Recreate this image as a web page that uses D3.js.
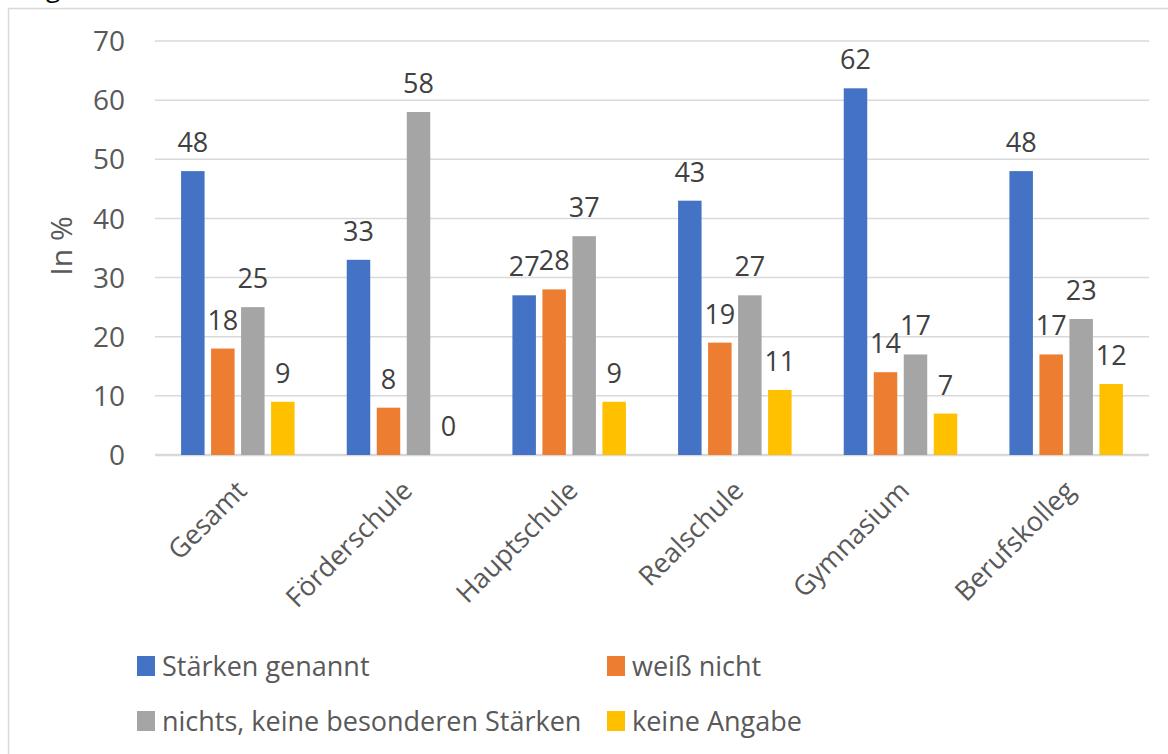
<!DOCTYPE html>
<html>
<head>
<meta charset="utf-8">
<script src="https://cdn.jsdelivr.net/npm/d3@7"></script>
<style>
  body { margin: 0; background: #fff; }
  text { font-family: "Open Sans", sans-serif; }
</style>
</head>
<body>
<script>
var width = 1168;
var height = 754;
var categories = ['Gesamt', 'Förderschule', 'Hauptschule', 'Realschule', 'Gymnasium', 'Berufskolleg'];
var seriesNames = ['Stärken genannt', 'weiß nicht', 'nichts, keine besonderen Stärken', 'keine Angabe'];
var staerken = [48, 33, 27, 43, 62, 48];
var weissNicht = [18, 8, 28, 19, 14, 17];
var nichts = [25, 58, 37, 27, 17, 23];
var keineAngabe = [9, 0, 9, 11, 7, 12];
var yTicks = [0, 10, 20, 30, 40, 50, 60, 70];
var colors = ['#4472C4', '#ED7D31', '#A5A5A5', '#FFC000'];

var series = [staerken, weissNicht, nichts, keineAngabe];

var svg = d3.select('body').append('svg').attr('width', width).attr('height', height);

// chart frame
svg.append('rect').attr('x', 8.5).attr('y', 8.5).attr('width', width + 20).attr('height', height + 20)
  .attr('fill', 'none').attr('stroke', '#d9d9d9').attr('stroke-width', 1.5);
svg.append('text').attr('x', 46).attr('y', -3).attr('font-size', 26).attr('fill', '#000').text('g');

var x0 = d3.scaleBand().domain(categories).range([155, 1149]);
var x1 = d3.scaleBand().domain(d3.range(4)).range([0, 113.5]).paddingInner(0.217);
var y = d3.scaleLinear().domain([0, 70]).range([455, 41]);

// gridlines
svg.append('g').selectAll('line').data(yTicks).enter().append('line')
  .attr('x1', 155).attr('x2', 1149)
  .attr('y1', function (d) { return y(d); }).attr('y2', function (d) { return y(d); })
  .attr('stroke', '#d9d9d9').attr('stroke-width', function (d) { return d === 0 ? 2.5 : 1.5; });

// y tick labels
svg.append('g').selectAll('text').data(yTicks).enter().append('text')
  .attr('x', 125).attr('y', function (d) { return y(d); }).attr('dy', '0.36em')
  .attr('text-anchor', 'end').attr('font-size', 28).attr('fill', '#595959')
  .text(function (d) { return d; });

svg.append('text').attr('transform', 'translate(72,246) rotate(-90)')
  .attr('text-anchor', 'middle').attr('font-size', 30).attr('fill', '#595959').text('In %');

var groups = svg.append('g').selectAll('g').data(categories).enter().append('g')
  .attr('transform', function (c) { return 'translate(' + (x0(c) + x0.bandwidth() / 2 - 56.75) + ',0)'; });

groups.each(function (c, ci) {
  var g = d3.select(this);
  var vals = series.map(function (s) { return s[ci]; });
  g.selectAll('rect').data(vals).enter().append('rect')
    .attr('x', function (d, i) { return x1(i); })
    .attr('y', function (d) { return y(d); })
    .attr('width', x1.bandwidth())
    .attr('height', function (d) { return y(0) - y(d); })
    .attr('fill', function (d, i) { return colors[i]; });
  g.selectAll('text').data(vals).enter().append('text')
    .attr('x', function (d, i) { return x1(i) + x1.bandwidth() / 2; })
    .attr('y', function (d) { return y(d) - 19; })
    .attr('text-anchor', 'middle').attr('font-size', 27).attr('fill', '#404040')
    .text(function (d) { return d; });
});

// x labels
svg.append('g').selectAll('text').data(categories).enter().append('text')
  .attr('transform', function (c) { return 'translate(' + (x0(c) + x0.bandwidth() / 2 - 3) + ',479) rotate(-45)'; })
  .attr('text-anchor', 'end').attr('dy', '0.7em').attr('font-size', 27).attr('fill', '#595959')
  .text(function (c) { return c; });

// legend
var legendPos = [[137, 666], [607, 666], [137, 721], [607, 721]];
var legend = svg.append('g').selectAll('g').data(seriesNames).enter().append('g')
  .attr('transform', function (d, i) { return 'translate(' + legendPos[i][0] + ',' + legendPos[i][1] + ')'; });
legend.append('rect').attr('x', 0).attr('y', -10).attr('width', 18).attr('height', 20)
  .attr('fill', function (d, i) { return colors[i]; });
legend.append('text').attr('x', 25).attr('y', 0).attr('dy', '0.36em')
  .attr('font-size', 27).attr('fill', '#595959').text(function (d) { return d; });
</script>
</body>
</html>
